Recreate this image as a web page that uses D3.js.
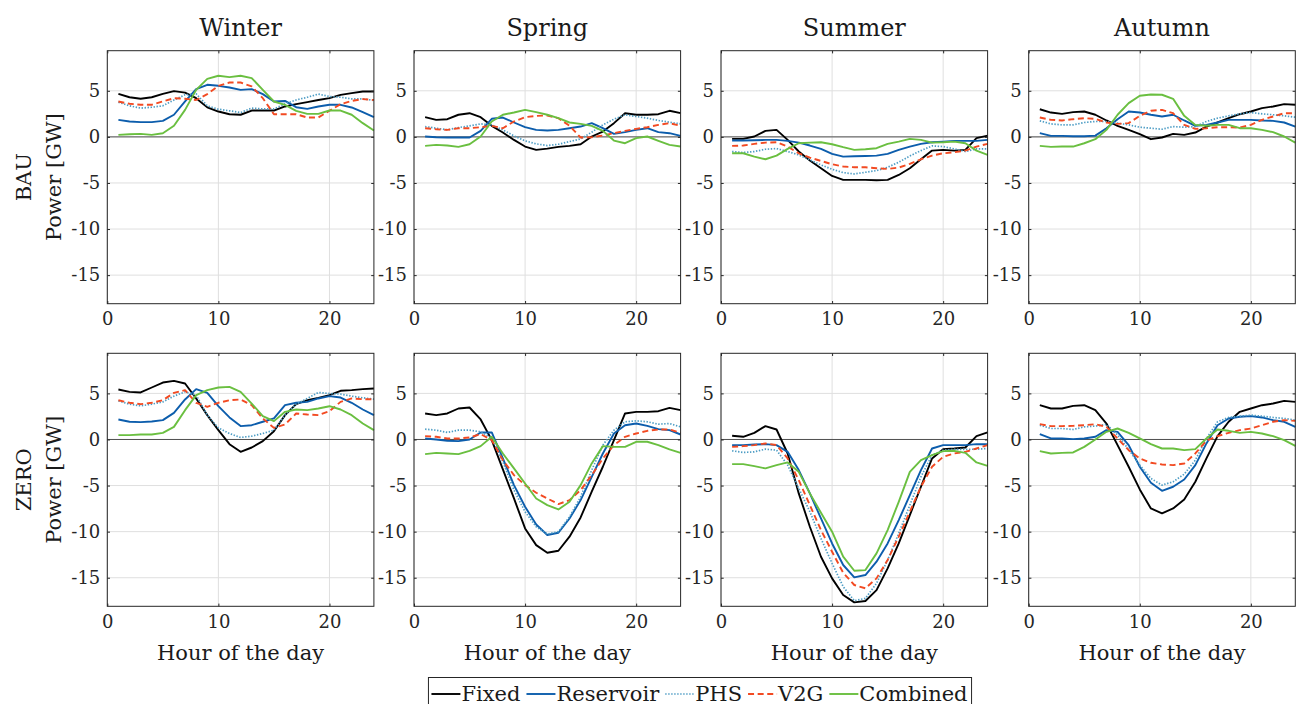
<!DOCTYPE html>
<html>
<head>
<meta charset="utf-8">
<script src="https://cdn.jsdelivr.net/npm/d3@7"></script>
<style>
body { margin: 0; background: #ffffff; }
svg text { font-family: "DejaVu Serif", "Liberation Serif", serif; fill: #1a1a1a; }
</style>
</head>
<body>
<div id="plot"></div>
<script>
// Data
var hours = d3.range(1, 25);
var seasons = ["Winter", "Spring", "Summer", "Autumn"];
var scenarios = ["BAU", "ZERO"];
var seriesNames = ["Fixed", "Reservoir", "PHS", "V2G", "Combined"];
var xTicks = [0, 10, 20];
var yTicks = [5, 0, -5, -10, -15];

// each panel: [Fixed, Reservoir, PHS, V2G, Combined], hours 1..24, GW
var bauWinter = [
    [4.67, 4.3, 4.13, 4.3, 4.67, 4.96, 4.8, 4.2, 3.2, 2.75, 2.46, 2.4, 2.86, 2.86, 2.86, 3.3, 3.55, 3.77, 4.0, 4.2, 4.56, 4.75, 4.93, 4.93],
    [1.85, 1.67, 1.6, 1.6, 1.74, 2.4, 3.84, 5.18, 5.65, 5.54, 5.36, 5.1, 5.18, 4.64, 3.84, 3.9, 3.22, 3.04, 3.3, 3.48, 3.48, 3.19, 2.68, 2.14],
    [3.77, 3.37, 3.12, 3.22, 3.37, 4.0, 4.56, 4.67, 3.37, 3.0, 2.83, 2.64, 3.12, 3.04, 3.04, 3.59, 4.0, 4.3, 4.64, 4.38, 4.3, 4.13, 4.13, 3.95],
    [3.84, 3.59, 3.48, 3.48, 3.84, 4.2, 4.13, 4.0, 4.64, 5.54, 5.9, 5.9, 5.47, 4.2, 2.46, 2.46, 2.46, 2.1, 2.1, 2.83, 3.55, 3.9, 4.1, 4.0],
    [0.22, 0.29, 0.33, 0.22, 0.4, 1.2, 2.93, 5.1, 6.3, 6.63, 6.48, 6.63, 6.38, 5.1, 3.84, 3.48, 2.83, 2.5, 2.5, 2.86, 2.86, 2.4, 1.49, 0.7]
];
var bauSpring = [
    [2.14, 1.85, 1.92, 2.4, 2.57, 2.14, 1.2, 0.47, -0.33, -1.05, -1.41, -1.27, -1.09, -0.98, -0.8, 0.04, 0.58, 1.49, 2.57, 2.4, 2.4, 2.46, 2.83, 2.57],
    [0.04, -0.04, -0.07, -0.07, -0.07, 0.65, 1.96, 2.1, 1.56, 1.05, 0.76, 0.69, 0.76, 0.94, 1.12, 1.49, 0.94, 0.33, 0.51, 0.76, 0.94, 0.51, 0.4, 0.11],
    [1.12, 0.94, 0.76, 1.01, 1.2, 1.41, 1.3, 0.76, 0.11, -0.43, -0.76, -0.94, -0.8, -0.51, -0.22, 0.51, 1.3, 1.92, 2.4, 2.21, 2.03, 1.78, 1.59, 1.41],
    [0.94, 0.83, 0.76, 0.94, 0.94, 1.05, 1.2, 0.94, 1.67, 2.14, 2.28, 2.32, 2.03, 1.2, -0.07, -0.04, 0.14, 0.4, 0.65, 0.87, 1.05, 1.3, 1.49, 1.2],
    [-0.98, -0.87, -0.94, -1.09, -0.8, 0.04, 1.67, 2.4, 2.64, 2.93, 2.68, 2.4, 2.03, 1.56, 1.41, 1.2, 0.65, -0.4, -0.69, -0.14, 0.04, -0.43, -0.87, -1.05]
];
var bauSummer = [
    [-0.22, -0.22, 0.04, 0.65, 0.76, -0.33, -1.59, -2.57, -3.4, -4.24, -4.67, -4.67, -4.67, -4.71, -4.67, -4.13, -3.4, -2.43, -1.49, -1.41, -1.49, -1.41, -0.14, 0.14],
    [-0.4, -0.4, -0.36, -0.33, -0.33, -0.43, -0.62, -0.94, -1.3, -1.85, -2.14, -2.1, -2.07, -2.03, -1.85, -1.41, -1.05, -0.76, -0.58, -0.51, -0.43, -0.43, -0.43, -0.33],
    [-1.59, -1.7, -1.59, -1.34, -1.27, -1.59, -1.96, -2.5, -3.04, -3.51, -3.88, -4.02, -3.84, -3.66, -3.3, -2.75, -2.07, -1.49, -0.98, -1.05, -1.3, -1.59, -1.3, -1.3],
    [-0.98, -0.94, -0.76, -0.62, -0.58, -1.05, -1.78, -2.25, -2.61, -2.97, -3.22, -3.3, -3.3, -3.4, -3.48, -3.33, -2.93, -2.43, -2.03, -1.78, -1.67, -1.49, -1.05, -0.76],
    [-1.78, -1.78, -2.14, -2.43, -2.03, -1.3, -0.69, -0.62, -0.58, -0.8, -1.12, -1.41, -1.34, -1.23, -0.76, -0.51, -0.22, -0.33, -0.62, -0.58, -0.51, -0.69, -1.49, -1.96]
];
var bauAutumn = [
    [3.0, 2.64, 2.5, 2.68, 2.75, 2.4, 1.78, 1.2, 0.76, 0.29, -0.25, -0.07, 0.33, 0.22, 0.47, 1.12, 1.56, 2.03, 2.46, 2.75, 3.12, 3.3, 3.55, 3.48],
    [0.4, 0.11, 0.11, 0.07, 0.07, 0.14, 0.94, 1.92, 2.75, 2.64, 2.4, 2.21, 2.4, 1.78, 1.2, 1.3, 1.56, 1.85, 1.85, 1.85, 1.78, 1.74, 1.56, 1.12],
    [1.74, 1.41, 1.3, 1.3, 1.56, 1.67, 1.67, 1.49, 1.3, 1.05, 0.94, 0.83, 1.12, 1.05, 1.12, 1.67, 2.03, 2.28, 2.5, 2.64, 2.5, 2.4, 2.28, 2.14],
    [2.1, 1.85, 1.78, 1.92, 2.03, 1.96, 1.56, 1.41, 1.49, 2.28, 2.83, 2.93, 2.57, 1.3, 0.87, 0.94, 1.05, 1.05, 1.01, 1.3, 1.85, 2.21, 2.57, 2.57],
    [-0.98, -1.09, -1.05, -1.05, -0.69, -0.25, 0.76, 2.4, 3.66, 4.46, 4.6, 4.57, 4.13, 2.28, 1.3, 1.2, 1.3, 1.3, 0.94, 0.94, 0.76, 0.51, 0.04, -0.62]
];
var zeroWinter = [
    [5.42, 5.17, 5.1, 5.64, 6.18, 6.36, 6.07, 4.45, 2.64, 1.01, -0.51, -1.34, -0.87, -0.18, 0.9, 2.64, 3.83, 4.26, 4.52, 4.81, 5.28, 5.35, 5.46, 5.53],
    [2.17, 1.92, 1.88, 1.95, 2.1, 2.89, 4.34, 5.46, 5.06, 3.61, 2.39, 1.45, 1.55, 1.92, 2.28, 3.72, 3.98, 4.08, 4.45, 4.7, 4.55, 3.98, 3.25, 2.64],
    [4.19, 3.83, 3.65, 3.83, 4.08, 4.7, 5.17, 4.81, 2.64, 1.26, 0.65, 0.22, 0.36, 0.65, 1.01, 2.64, 3.83, 4.45, 5.1, 4.99, 4.92, 4.7, 4.52, 4.37],
    [4.26, 3.98, 3.83, 3.98, 4.26, 5.06, 5.35, 3.98, 3.54, 3.98, 4.26, 4.34, 3.72, 2.28, 1.26, 1.63, 2.82, 2.71, 2.64, 3.07, 4.08, 4.45, 4.37, 4.37],
    [0.47, 0.47, 0.54, 0.54, 0.72, 1.37, 3.18, 4.81, 5.35, 5.64, 5.71, 5.17, 3.9, 2.53, 1.99, 3.0, 3.25, 3.18, 3.36, 3.61, 3.25, 2.64, 1.73, 1.01]
];
var zeroSpring = [
    [2.82, 2.64, 2.82, 3.36, 3.47, 2.17, -0.07, -3.25, -6.4, -9.65, -11.46, -12.29, -12.07, -10.55, -8.46, -5.67, -2.96, -0.07, 2.82, 3.0, 3.0, 3.07, 3.43, 3.18],
    [0.11, 0.0, -0.14, -0.18, 0.0, 0.76, 0.76, -2.06, -4.95, -7.3, -9.22, -10.37, -10.12, -8.57, -6.58, -4.05, -1.52, 0.65, 1.55, 1.73, 1.48, 1.12, 1.01, 0.54],
    [1.12, 1.01, 0.76, 1.01, 1.01, 0.83, 0.18, -2.42, -5.49, -7.84, -9.47, -10.26, -10.0, -8.39, -6.22, -3.32, -0.61, 1.01, 1.92, 2.02, 1.92, 1.66, 1.73, 1.37],
    [0.36, 0.29, 0.11, 0.11, 0.22, 0.58, -0.07, -2.24, -3.87, -4.95, -5.78, -6.4, -7.01, -6.58, -5.49, -3.87, -2.06, -0.61, 0.29, 0.65, 0.94, 1.08, 1.08, 0.72],
    [-1.59, -1.45, -1.52, -1.59, -1.23, -0.72, 0.29, -1.52, -3.14, -4.77, -6.4, -7.12, -7.59, -6.76, -4.95, -2.6, -0.72, -0.8, -0.8, -0.25, -0.25, -0.61, -1.08, -1.45]
];
var zeroSummer = [
    [0.4, 0.29, 0.72, 1.45, 1.08, -1.52, -5.85, -9.47, -12.72, -15.07, -16.88, -17.67, -17.53, -16.34, -13.99, -11.28, -8.2, -5.13, -2.06, -1.05, -0.98, -0.87, 0.36, 0.76],
    [-0.61, -0.61, -0.54, -0.51, -0.61, -1.34, -3.32, -5.85, -8.57, -11.28, -13.62, -14.96, -14.71, -13.26, -11.28, -8.75, -6.04, -3.32, -0.98, -0.61, -0.61, -0.61, -0.51, -0.51],
    [-1.23, -1.41, -1.34, -1.05, -1.16, -2.78, -5.31, -7.84, -10.73, -13.44, -15.97, -17.49, -17.24, -15.61, -13.08, -10.19, -7.12, -4.05, -1.7, -1.16, -1.08, -1.08, -1.05, -0.98],
    [-0.8, -0.72, -0.61, -0.43, -0.61, -2.06, -4.41, -7.12, -9.83, -12.18, -14.46, -15.79, -16.15, -15.07, -13.08, -10.55, -7.84, -5.13, -2.96, -1.88, -1.52, -1.34, -0.98, -0.61],
    [-2.67, -2.67, -2.89, -3.14, -2.78, -2.49, -3.51, -5.85, -7.95, -10.01, -12.72, -14.24, -14.17, -12.36, -9.83, -6.76, -3.51, -2.24, -1.7, -1.26, -1.23, -1.45, -2.49, -2.86]
];
var zeroAutumn = [
    [3.72, 3.36, 3.36, 3.65, 3.72, 3.18, 1.73, -0.61, -2.96, -5.42, -7.48, -8.02, -7.48, -6.51, -4.59, -2.06, 0.36, 1.92, 3.0, 3.36, 3.72, 3.9, 4.19, 4.08],
    [0.58, 0.11, 0.11, 0.04, 0.11, 0.29, 1.01, 0.83, -0.61, -2.96, -4.7, -5.57, -5.13, -4.34, -2.78, -0.43, 1.55, 2.28, 2.46, 2.53, 2.39, 2.1, 1.92, 1.37],
    [1.55, 1.19, 1.19, 1.08, 1.37, 1.45, 1.63, 0.47, -1.08, -2.78, -4.23, -4.95, -4.59, -3.76, -2.24, 0.11, 1.92, 2.39, 2.53, 2.64, 2.53, 2.39, 2.28, 2.1],
    [1.66, 1.45, 1.45, 1.48, 1.55, 1.66, 1.37, 0.11, -1.16, -2.06, -2.53, -2.71, -2.78, -2.6, -1.52, -0.14, 0.36, 0.72, 1.01, 1.19, 1.55, 1.92, 2.1, 2.02],
    [-1.26, -1.52, -1.45, -1.41, -0.8, 0.0, 0.83, 1.19, 0.72, 0.11, -0.51, -0.98, -0.98, -1.16, -1.05, 0.11, 1.08, 0.94, 0.72, 0.83, 0.65, 0.36, -0.07, -0.69]
];

var panels = [
    [bauWinter, bauSpring, bauSummer, bauAutumn],
    [zeroWinter, zeroSpring, zeroSummer, zeroAutumn]
];

// Layout
var width = 1296;
var height = 704;
var colLeft = [107.3, 414, 721, 1028.7];
var rowTop = [50.7, 353.3];
var plotW = 266.6;
var plotH = 253;
var tickLen = 2.7;

var colours = ["#000000", "#0c5dac", "#4c9cc4", "#f24a22", "#6abf40"];
var dashes = [null, null, "1.4,1.6", "6,3.6", null];
var widths = [1.9, 1.9, 1.7, 1.9, 1.9];

var svg = d3
    .select("#plot")
    .append("svg")
    .attr("width", width)
    .attr("height", height)
    .style("background", "#ffffff");

var x = d3.scaleLinear().domain([0, 24]).range([0, plotW]);
var y = d3.scaleLinear().domain([-18.1, 9.35]).range([plotH, 0]);

var line = d3
    .line()
    .x(function(d, i) {
        return x(hours[i]);
    })
    .y(function(d) {
        return y(d);
    });

function drawPanel(r, c) {
    var g = svg
        .append("g")
        .attr("transform", "translate(" + colLeft[c] + "," + rowTop[r] + ")");

    // grid
    g.selectAll(".gx")
        .data(xTicks)
        .enter()
        .append("line")
        .attr("x1", function(d) { return x(d); })
        .attr("x2", function(d) { return x(d); })
        .attr("y1", 0)
        .attr("y2", plotH)
        .attr("stroke", "#dfdfdf")
        .attr("stroke-width", 1);

    g.selectAll(".gy")
        .data(yTicks)
        .enter()
        .append("line")
        .attr("x1", 0)
        .attr("x2", plotW)
        .attr("y1", function(d) { return y(d); })
        .attr("y2", function(d) { return y(d); })
        .attr("stroke", "#dfdfdf")
        .attr("stroke-width", 1);

    // zero line
    g.append("line")
        .attr("x1", 0)
        .attr("x2", plotW)
        .attr("y1", y(0))
        .attr("y2", y(0))
        .attr("stroke", "#505050")
        .attr("stroke-width", 1);

    // series
    g.selectAll(".series")
        .data(panels[r][c])
        .enter()
        .append("path")
        .attr("d", function(d) { return line(d); })
        .attr("fill", "none")
        .attr("stroke", function(d, i) { return colours[i]; })
        .attr("stroke-width", function(d, i) { return widths[i]; })
        .attr("stroke-dasharray", function(d, i) { return dashes[i]; })
        .attr("stroke-linejoin", "round");

    // axes, ticks inside on all sides
    g.append("g")
        .attr("transform", "translate(0," + plotH + ")")
        .call(d3.axisBottom(x).tickValues(xTicks).tickSize(-tickLen).tickPadding(9));
    g.append("g")
        .call(d3.axisLeft(y).tickValues(yTicks).tickSize(-tickLen).tickPadding(7)
            .tickFormat(function(d) { return d < 0 ? "-" + Math.abs(d) : d; }));
    g.append("g")
        .call(d3.axisTop(x).tickValues(xTicks).tickSize(-tickLen).tickFormat(""));
    g.append("g")
        .attr("transform", "translate(" + plotW + ",0)")
        .call(d3.axisRight(y).tickValues(yTicks).tickSize(-tickLen).tickFormat(""));

    g.selectAll(".domain").remove();
    g.selectAll(".tick line").attr("stroke", "#262626");
    g.selectAll(".tick text")
        .style("font-size", "18px")
        .style("fill", "#262626")
        .style("font-family", "DejaVu Serif");

    g.append("rect")
        .attr("x", 0)
        .attr("y", 0)
        .attr("width", plotW)
        .attr("height", plotH)
        .attr("fill", "none")
        .attr("stroke", "#262626")
        .attr("stroke-width", 1);

    if (r == 0) {
        g.append("text")
            .attr("x", plotW / 2)
            .attr("y", -14.5)
            .attr("text-anchor", "middle")
            .style("font-size", "24px")
            .text(seasons[c]);
    }
    if (r == 1) {
        g.append("text")
            .attr("x", plotW / 2)
            .attr("y", 660 - rowTop[1])
            .attr("text-anchor", "middle")
            .style("font-size", "21px")
            .text("Hour of the day");
    }
    if (c == 0) {
        var cy = plotH / 2;
        g.append("text")
            .attr("transform", "translate(" + (30.7 - colLeft[0]) + "," + cy + ") rotate(-90)")
            .attr("text-anchor", "middle")
            .style("font-size", "21px")
            .text(scenarios[r]);
        g.append("text")
            .attr("transform", "translate(" + (60.7 - colLeft[0]) + "," + cy + ") rotate(-90)")
            .attr("text-anchor", "middle")
            .style("font-size", "21px")
            .text("Power [GW]");
    }
}

for (var r = 0; r < 2; r++) {
    for (var c = 0; c < 4; c++) {
        drawPanel(r, c);
    }
}

// Legend
var legend = svg.append("g");
var legendBox = legend.append("rect")
    .attr("fill", "#ffffff")
    .attr("stroke", "#262626")
    .attr("stroke-width", 1);

var lx = 0;
var segLen = 29;
seriesNames.map(function(name, i) {
    legend.append("line")
        .attr("x1", lx + 3)
        .attr("x2", lx + 3 + segLen)
        .attr("y1", 694)
        .attr("y2", 694)
        .attr("stroke", colours[i])
        .attr("stroke-width", widths[i])
        .attr("stroke-dasharray", dashes[i]);
    var t = legend.append("text")
        .attr("x", lx + 3 + segLen + 1)
        .attr("y", 700.5)
        .style("font-size", "21px")
        .text(name);
    lx = lx + 3 + segLen + 1 + t.node().getComputedTextLength() + 3;
});

var legendW = lx + 1;
var legendX = 700 - legendW / 2;
legend.attr("transform", "translate(" + legendX + ",0)");
legendBox
    .attr("x", 0)
    .attr("y", 677.5)
    .attr("width", legendW)
    .attr("height", 40);
</script>
</body>
</html>
